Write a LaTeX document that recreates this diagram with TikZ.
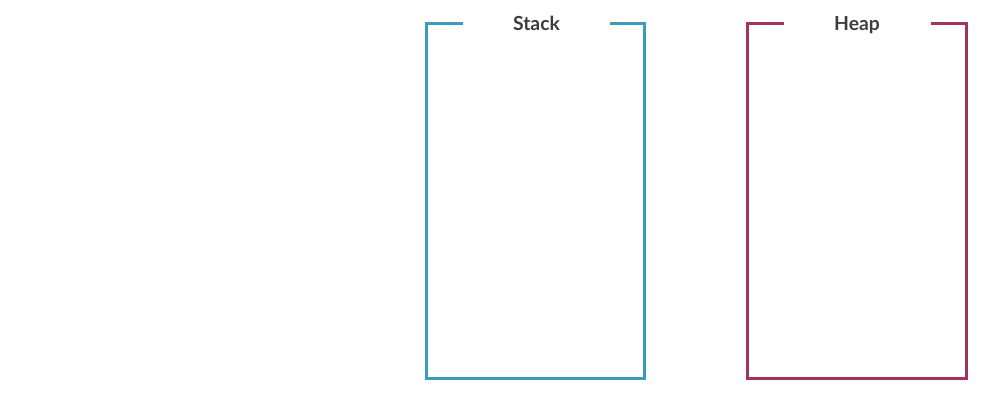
\documentclass[tikz,border=0pt]{standalone}
\usepackage{fontspec}
\setmainfont{Lato}
\usepackage{tikz}
\usetikzlibrary{positioning}
\definecolor{figTeal}{HTML}{3A9BBA}
\definecolor{figPlum}{HTML}{A3325F}
\definecolor{figText}{HTML}{3D3D3D}

\begin{document}
\begin{tikzpicture}[
  x=0.75pt, y=-0.75pt,
  every node/.style={font=\bfseries\fontsize{14.5}{17}\selectfont, text=figText},
  title/.style={anchor=base, inner sep=0pt},
  stackline/.style={draw=figTeal, line width=2.25pt, line join=miter},
  heapline/.style={draw=figPlum, line width=2.25pt, line join=miter},
]
\useasboundingbox (0,0) rectangle (985,400);

% Titles
\node[title] (stack) at (536.5,30) {Stack};
\node[title] (heap) at (857,30) {Heap};

% Stack frame
\draw[stackline] (463,23.5) -- (426,23.5) -- (426,378) -- (644.5,378)
  -- (644.5,23.5) -- (609.5,23.5);

% Heap frame
\draw[heapline] (784,23.5) -- (747,23.5) -- (747,378) -- (966,378)
  -- (966,23.5) -- (931,23.5);

\end{tikzpicture}
\end{document}
